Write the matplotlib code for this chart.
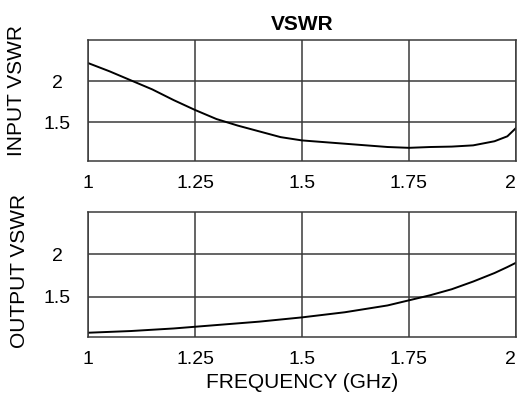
import numpy as np
import matplotlib
matplotlib.use("Agg")
import matplotlib.pyplot as plt

plt.rcParams['font.family'] = ['Liberation Sans', 'DejaVu Sans']

# frequency points (GHz)
freq = [1.0, 1.05, 1.1, 1.15, 1.2, 1.25, 1.3, 1.35, 1.4, 1.45, 1.5,
        1.55, 1.6, 1.65, 1.7, 1.75, 1.8, 1.85, 1.9, 1.95, 1.98, 2.0]
input_vswr = [2.22, 2.12, 2.01, 1.90, 1.77, 1.65, 1.54, 1.46, 1.39, 1.32, 1.28,
              1.26, 1.24, 1.22, 1.20, 1.19, 1.20, 1.205, 1.22, 1.27, 1.33, 1.43]
output_vswr = [1.08, 1.09, 1.10, 1.115, 1.13, 1.15, 1.17, 1.19, 1.21, 1.235, 1.26,
               1.29, 1.32, 1.36, 1.40, 1.46, 1.52, 1.59, 1.68, 1.78, 1.85, 1.90]

xticks = [1, 1.25, 1.5, 1.75, 2]
xticklabels = ["1", "1.25", "1.5", "1.75", "2"]
yticks = [1.5, 2]
yticklabels = ["1.5", "2"]

fig = plt.figure(figsize=(5.18, 4.0), dpi=100)
ax1 = fig.add_axes([0.170, 0.5975, 0.826, 0.3025])
ax2 = fig.add_axes([0.170, 0.1575, 0.826, 0.3135])

gc = "#3a3a3a"
for ax, y, lab, lx, ly in [(ax1, input_vswr, "INPUT VSWR", -0.168, 0.58),
                           (ax2, output_vswr, "OUTPUT VSWR", -0.161, 0.53)]:
    ax.plot(freq, y, color="black", lw=1.4)
    ax.set_xlim(1, 2)
    ax.set_ylim(1.03, 2.5)
    ax.set_xticks(xticks)
    ax.set_xticklabels(xticklabels)
    ax.get_xticklabels()[-1].set_ha("right")
    ax.set_yticks(yticks)
    ax.set_yticklabels(yticklabels, ha="center")
    ax.tick_params(axis="x", length=0, pad=10, labelsize=14)
    ax.tick_params(axis="y", length=0, pad=22, labelsize=14)
    ax.grid(True, color=gc, lw=1.1)
    for s in ax.spines.values():
        s.set_color(gc)
        s.set_linewidth(1.1)
    ax.set_ylabel(lab, fontsize=15, va="center")
    ax.yaxis.set_label_coords(lx, ly)

ax1.set_title("VSWR", fontsize=15, fontweight="bold", pad=7)
ax2.set_xlabel("FREQUENCY (GHz)", fontsize=15, labelpad=4)

fig.savefig("out.png", dpi=100)
